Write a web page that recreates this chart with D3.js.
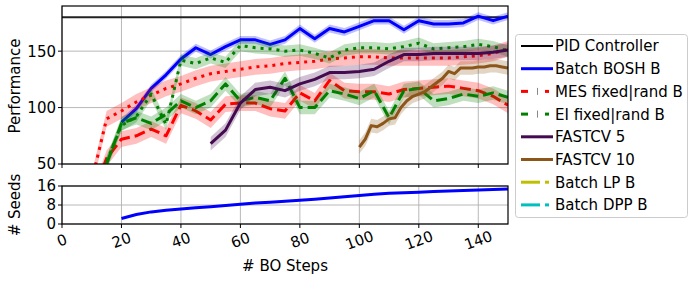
<!DOCTYPE html>
<html>
<head>
<meta charset="utf-8">
<script src="https://cdn.jsdelivr.net/npm/d3@7"></script>
<style>
  body { margin: 0; background: #fff; }
  svg { font-family: "DejaVu Sans", sans-serif; }
</style>
</head>
<body>
<svg id="chart" width="695" height="281"></svg>
<script>
// BO steps shared by most series
const steps = [10, 15, 20, 25, 30, 35, 40, 45, 50, 55, 60, 65, 70, 75, 80, 85, 90, 95, 100, 105, 110, 115, 120, 125, 130, 135, 140, 145, 150];

const pidLevel = 180;
const boshB    = [null, null, 87, 99, 117, 129, 143, 153, 147, 154, 160, 160, 156, 160, 170, 161, 170, 167, 172, 177, 177, 169, 177, 174, 174, 175, 181, 177, 181];
const mesRand  = [35, 90, 97, 105, 111, 117, 121, 126, 130, 132, 134, 136, 137, 139, 140, 141, 143, 144, 145, 145, 144, 144, 144, 144, 144, 145, 146, 148, 152];
const mesFixed = [20, 55, 72, 75, 81, 75, 102, 97, 89, 103, 104, 104, 99, 97, 113, 106, 124, 115, 114, 114, 112, 116, 117, 118, 119, 117, 115, 110, 102];
const eiRand   = [20, 52, 84, 92, 112, 85, 142, 139, 144, 140, 155, 153, 152, 150, 151, 148, 144, 151, 153, 153, 152, 154, 157, 152, 153, 154, 156, 154, 150];
const eiFixed  = [10, 50, 86, 91, 86, 94, 106, 100, 106, 121, 106, 109, 106, 126, 100, 100, 115, 112, 108, 115, 91, 115, 117, 106, 108, 112, 110, 113, 109];
const fast5    = [null, null, null, null, null, null, null, null, 68, 80, 104, 116, 118, 115, 121, 125, 131, 131, 132, 134, 141, 147, 147, 148, 148, 148, 148, 149, 151];

const fast10Steps = [100, 102, 104, 106, 108, 110, 112, 114, 116, 118, 120, 122, 124, 126, 128, 130, 132, 134, 136, 138, 140, 142, 144, 146, 148, 150];
const fast10      = [65, 72, 84, 83, 86, 90, 91, 100, 106, 110, 112, 114, 118, 122, 126, 132, 130, 135, 135, 135, 136, 136, 137, 137, 136, 135];

const seedSteps = [20, 25, 30, 35, 40, 45, 50, 55, 60, 65, 70, 75, 80, 85, 90, 95, 100, 105, 110, 115, 120, 125, 130, 135, 140, 145, 150];
const seeds     = [2.3, 4.0, 5.1, 5.8, 6.3, 6.8, 7.3, 7.8, 8.3, 8.8, 9.2, 9.6, 10.0, 10.4, 10.9, 11.5, 12.0, 12.5, 12.9, 13.2, 13.4, 13.7, 13.9, 14.1, 14.3, 14.5, 14.7];

// half width of the shaded spread around each curve
const spread = { bosh: 3.5, mesRand: 7, mesFixed: 7, eiRand: 5, eiFixed: 6, fast5: 6, fast10: 6 };

const xTicks = [0, 20, 40, 60, 80, 100, 120, 140];
const perfTicks = [50, 100, 150];
const seedTicks = [0, 8, 16];

const legendLabels = ['PID Controller', 'Batch BOSH B', 'MES fixed|rand B', 'EI fixed|rand B', 'FASTCV 5', 'FASTCV 10', 'Batch LP B', 'Batch DPP B'];

const col = {
    pid: '#222222', bosh: '#0000ff', mes: '#ff0000', ei: '#008000',
    fast5: '#440a4f', fast10: '#8c561b', lp: '#bfbf00', dpp: '#00bfbf'
};
const DASH = '11,5';
const DOT = '3,5';

const svg = d3.select('#chart');

const left = 62, right = 508;
const top1 = 6, bot1 = 164;
const top2 = 186, bot2 = 224;

const x = d3.scaleLinear().domain([0, 150]).range([left, right]);
const y = d3.scaleLinear().domain([50, 190]).range([bot1, top1]);
const ys = d3.scaleLinear().domain([0, 16]).range([bot2, top2]);

svg.append('defs').append('clipPath').attr('id', 'clip1')
    .append('rect').attr('x', left).attr('y', top1).attr('width', right - left).attr('height', bot1 - top1);

function grid(g, yScale, yT, t, b) {
    g.selectAll('line.gx').data(xTicks).enter().append('line')
        .attr('x1', d => x(d)).attr('x2', d => x(d)).attr('y1', t).attr('y2', b)
        .attr('stroke', '#b0b0b0').attr('stroke-width', 0.9);
    g.selectAll('line.gy').data(yT).enter().append('line')
        .attr('x1', left).attr('x2', right).attr('y1', d => yScale(d)).attr('y2', d => yScale(d))
        .attr('stroke', '#b0b0b0').attr('stroke-width', 0.9);
}

function frame(yScale, yT, t, b, withXLabels) {
    const ax = svg.append('g');
    ax.append('rect').attr('x', left).attr('y', t).attr('width', right - left).attr('height', b - t)
        .attr('fill', 'none').attr('stroke', '#000').attr('stroke-width', 1.2);
    ax.selectAll('line.ty').data(yT).enter().append('line')
        .attr('x1', left - 4).attr('x2', left).attr('y1', d => yScale(d)).attr('y2', d => yScale(d))
        .attr('stroke', '#000');
    ax.selectAll('text.ty').data(yT).enter().append('text')
        .attr('x', left - 6).attr('y', d => yScale(d)).attr('dy', '0.36em')
        .attr('text-anchor', 'end').attr('font-size', 15).text(d => d);
    ax.selectAll('line.tx').data(xTicks).enter().append('line')
        .attr('x1', d => x(d)).attr('x2', d => x(d)).attr('y1', b).attr('y2', b + 4)
        .attr('stroke', '#000');
    if (withXLabels) {
        ax.selectAll('text.tx').data(xTicks).enter().append('text')
            .attr('transform', d => `translate(${x(d)},240) rotate(-20)`)
            .attr('text-anchor', 'middle').attr('dy', '0.36em').attr('font-size', 15).text(d => d);
    }
}

// ---- top panel: performance
const g1 = svg.append('g');
grid(g1, y, perfTicks, top1, bot1);

const plot = svg.append('g').attr('clip-path', 'url(#clip1)');

function series(xs, ys_, sd, color, dash) {
    const pts = xs.map((s, i) => ({ s, v: ys_[i] })).filter(p => p.v != null);
    const area = d3.area().x(p => x(p.s)).y0(p => y(p.v - sd)).y1(p => y(p.v + sd));
    plot.append('path').attr('d', area(pts)).attr('fill', color).attr('fill-opacity', 0.25).attr('stroke', 'none');
    const line = d3.line().x(p => x(p.s)).y(p => y(p.v));
    plot.append('path').attr('d', line(pts)).attr('fill', 'none').attr('stroke', color)
        .attr('stroke-width', 3).attr('stroke-dasharray', dash || null).attr('stroke-linejoin', 'round');
}

plot.append('line').attr('x1', left).attr('x2', right).attr('y1', y(pidLevel)).attr('y2', y(pidLevel))
    .attr('stroke', col.pid).attr('stroke-width', 2);
series(steps, boshB, spread.bosh, col.bosh);
series(steps, mesFixed, spread.mesFixed, col.mes, DASH);
series(steps, mesRand, spread.mesRand, col.mes, DOT);
series(steps, eiFixed, spread.eiFixed, col.ei, DASH);
series(steps, eiRand, spread.eiRand, col.ei, DOT);
series(steps, fast5, spread.fast5, col.fast5);
series(fast10Steps, fast10, spread.fast10, col.fast10);

frame(y, perfTicks, top1, bot1, false);

// ---- bottom panel: seeds
const g2 = svg.append('g');
grid(g2, ys, seedTicks, top2, bot2);
svg.append('path')
    .datum(seedSteps.map((s, i) => [s, seeds[i]]))
    .attr('d', d3.line().x(d => x(d[0])).y(d => ys(d[1])))
    .attr('fill', 'none').attr('stroke', col.bosh).attr('stroke-width', 3);
frame(ys, seedTicks, top2, bot2, true);

// ---- axis titles
svg.append('text').attr('transform', 'translate(15,86) rotate(-90)').attr('text-anchor', 'middle')
    .attr('dy', '0.36em').attr('font-size', 15).text('Performance');
svg.append('text').attr('transform', 'translate(15,205) rotate(-90)').attr('text-anchor', 'middle')
    .attr('dy', '0.36em').attr('font-size', 15).text('# Seeds');
svg.append('text').attr('x', (left + right) / 2).attr('y', 266).attr('text-anchor', 'middle')
    .attr('dy', '0.36em').attr('font-size', 15).text('# BO Steps');

// ---- legend
const lg = svg.append('g');
lg.append('rect').attr('x', 515.5).attr('y', 34.5).attr('width', 172).attr('height', 183).attr('rx', 3)
    .attr('fill', '#fff').attr('fill-opacity', 0.8).attr('stroke', '#cccccc');
const rowY = i => 46 + i * 22.7;
const hx0 = 521, hx1 = 553;

function solidHandle(i, color, w) {
    lg.append('line').attr('x1', hx0).attr('x2', hx1).attr('y1', rowY(i)).attr('y2', rowY(i))
        .attr('stroke', color).attr('stroke-width', w);
}
function mixHandle(i, color) {
    const yy = rowY(i);
    lg.append('line').attr('x1', hx0).attr('x2', 528).attr('y1', yy).attr('y2', yy).attr('stroke', color).attr('stroke-width', 3);
    lg.append('line').attr('x1', 537.5).attr('x2', 537.5).attr('y1', yy - 3.5).attr('y2', yy + 3.5).attr('stroke', '#888').attr('stroke-width', 1);
    lg.append('line').attr('x1', 545).attr('x2', 549).attr('y1', yy).attr('y2', yy).attr('stroke', color).attr('stroke-width', 3);
}
function dashDotHandle(i, color) {
    const yy = rowY(i);
    lg.append('line').attr('x1', hx0).attr('x2', 540).attr('y1', yy).attr('y2', yy).attr('stroke', color).attr('stroke-width', 3);
    lg.append('line').attr('x1', 545).attr('x2', 549).attr('y1', yy).attr('y2', yy).attr('stroke', color).attr('stroke-width', 3);
}
solidHandle(0, '#000', 2);
solidHandle(1, col.bosh, 3);
mixHandle(2, col.mes);
mixHandle(3, col.ei);
solidHandle(4, col.fast5, 3);
solidHandle(5, col.fast10, 3);
dashDotHandle(6, col.lp);
dashDotHandle(7, col.dpp);

lg.selectAll('text').data(legendLabels).enter().append('text')
    .attr('x', 555).attr('y', (d, i) => rowY(i)).attr('dy', '0.36em')
    .attr('font-size', 15).text(d => d);
</script>
</body>
</html>
